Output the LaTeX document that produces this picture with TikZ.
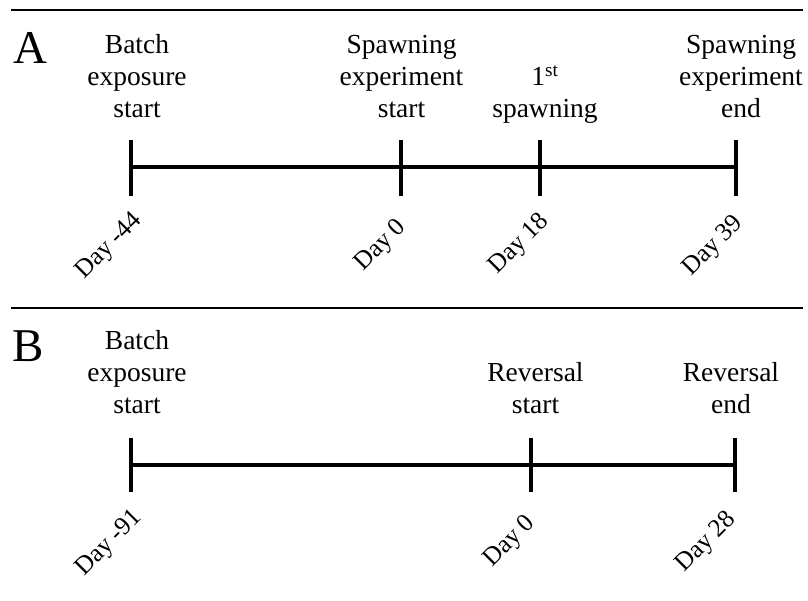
\documentclass[tikz,border=0pt]{standalone}
\usepackage{fontspec}
\setmainfont{Liberation Serif}
\newcommand\lblstack[1]{\begin{tabular}[t]{@{}c@{}}#1\end{tabular}}
\begin{document}
\begin{tikzpicture}[x=1pt,y=-1pt,
  axis/.style={line width=4pt},
  rulebar/.style={line width=1.3pt},
  lbl/.style={font=\fontsize{27.5}{32}\selectfont, anchor=base, inner sep=0pt},
  day/.style={font=\fontsize{25.5}{30}\selectfont, anchor=base east, rotate=45, inner sep=0pt},
  panel/.style={font=\fontsize{47}{50}\selectfont, anchor=base, inner sep=0pt}]
\useasboundingbox (0,0) rectangle (808,600);

% separator rules
\coordinate (r1a) at (11,10);  \coordinate (r1b) at (803,10);
\coordinate (r2a) at (11,308); \coordinate (r2b) at (803,308);
\draw[rulebar] (r1a) -- (r1b);
\draw[rulebar] (r2a) -- (r2b);

% panel letters
\node[panel] (pA) at (30,63) {A};
\node[panel] (pB) at (28,361) {B};

% ---------- Panel A ----------
\coordinate (a1) at (131,167); \coordinate (a2) at (401,167);
\coordinate (a3) at (540,167); \coordinate (a4) at (736,167);
\foreach \n/\x in {a1/131,a2/401,a3/540,a4/736}{
  \coordinate (\n t) at (\x,140); \coordinate (\n b) at (\x,196);
  \draw[axis] (\n t) -- (\n b);
}
\draw[axis] (a1) -- (a4);

\node[lbl] (la1) at (137,53.5) {\lblstack{Batch\\exposure\\start}};
\node[lbl] (la2) at (401.5,53.5) {\lblstack{Spawning\\experiment\\start}};
\node[lbl] (la3) at (545,85.5) {\lblstack{1\textsuperscript{st}\\spawning}};
\node[lbl] (la4) at (741,53.5) {\lblstack{Spawning\\experiment\\end}};

\node[day] (da1) at (143,221) {Day -44};
\node[day] (da2) at (407,228) {Day 0};
\node[day] (da3) at (550,222) {Day 18};
\node[day] (da4) at (744,224) {Day 39};

% ---------- Panel B ----------
\coordinate (b1) at (131,465); \coordinate (b2) at (531,465);
\coordinate (b3) at (735,465);
\foreach \n/\x in {b1/131,b2/531,b3/735}{
  \coordinate (\n t) at (\x,438); \coordinate (\n b) at (\x,492);
  \draw[axis] (\n t) -- (\n b);
}
\draw[axis] (b1) -- (b3);

\node[lbl] (lb1) at (137,349.5) {\lblstack{Batch\\exposure\\start}};
\node[lbl] (lb2) at (535.5,381.5) {\lblstack{Reversal\\start}};
\node[lbl] (lb3) at (731,381.5) {\lblstack{Reversal\\end}};

\node[day] (db1) at (143,518) {Day -91};
\node[day] (db2) at (536,524) {Day 0};
\node[day] (db3) at (737,520) {Day 28};
\end{tikzpicture}
\end{document}
